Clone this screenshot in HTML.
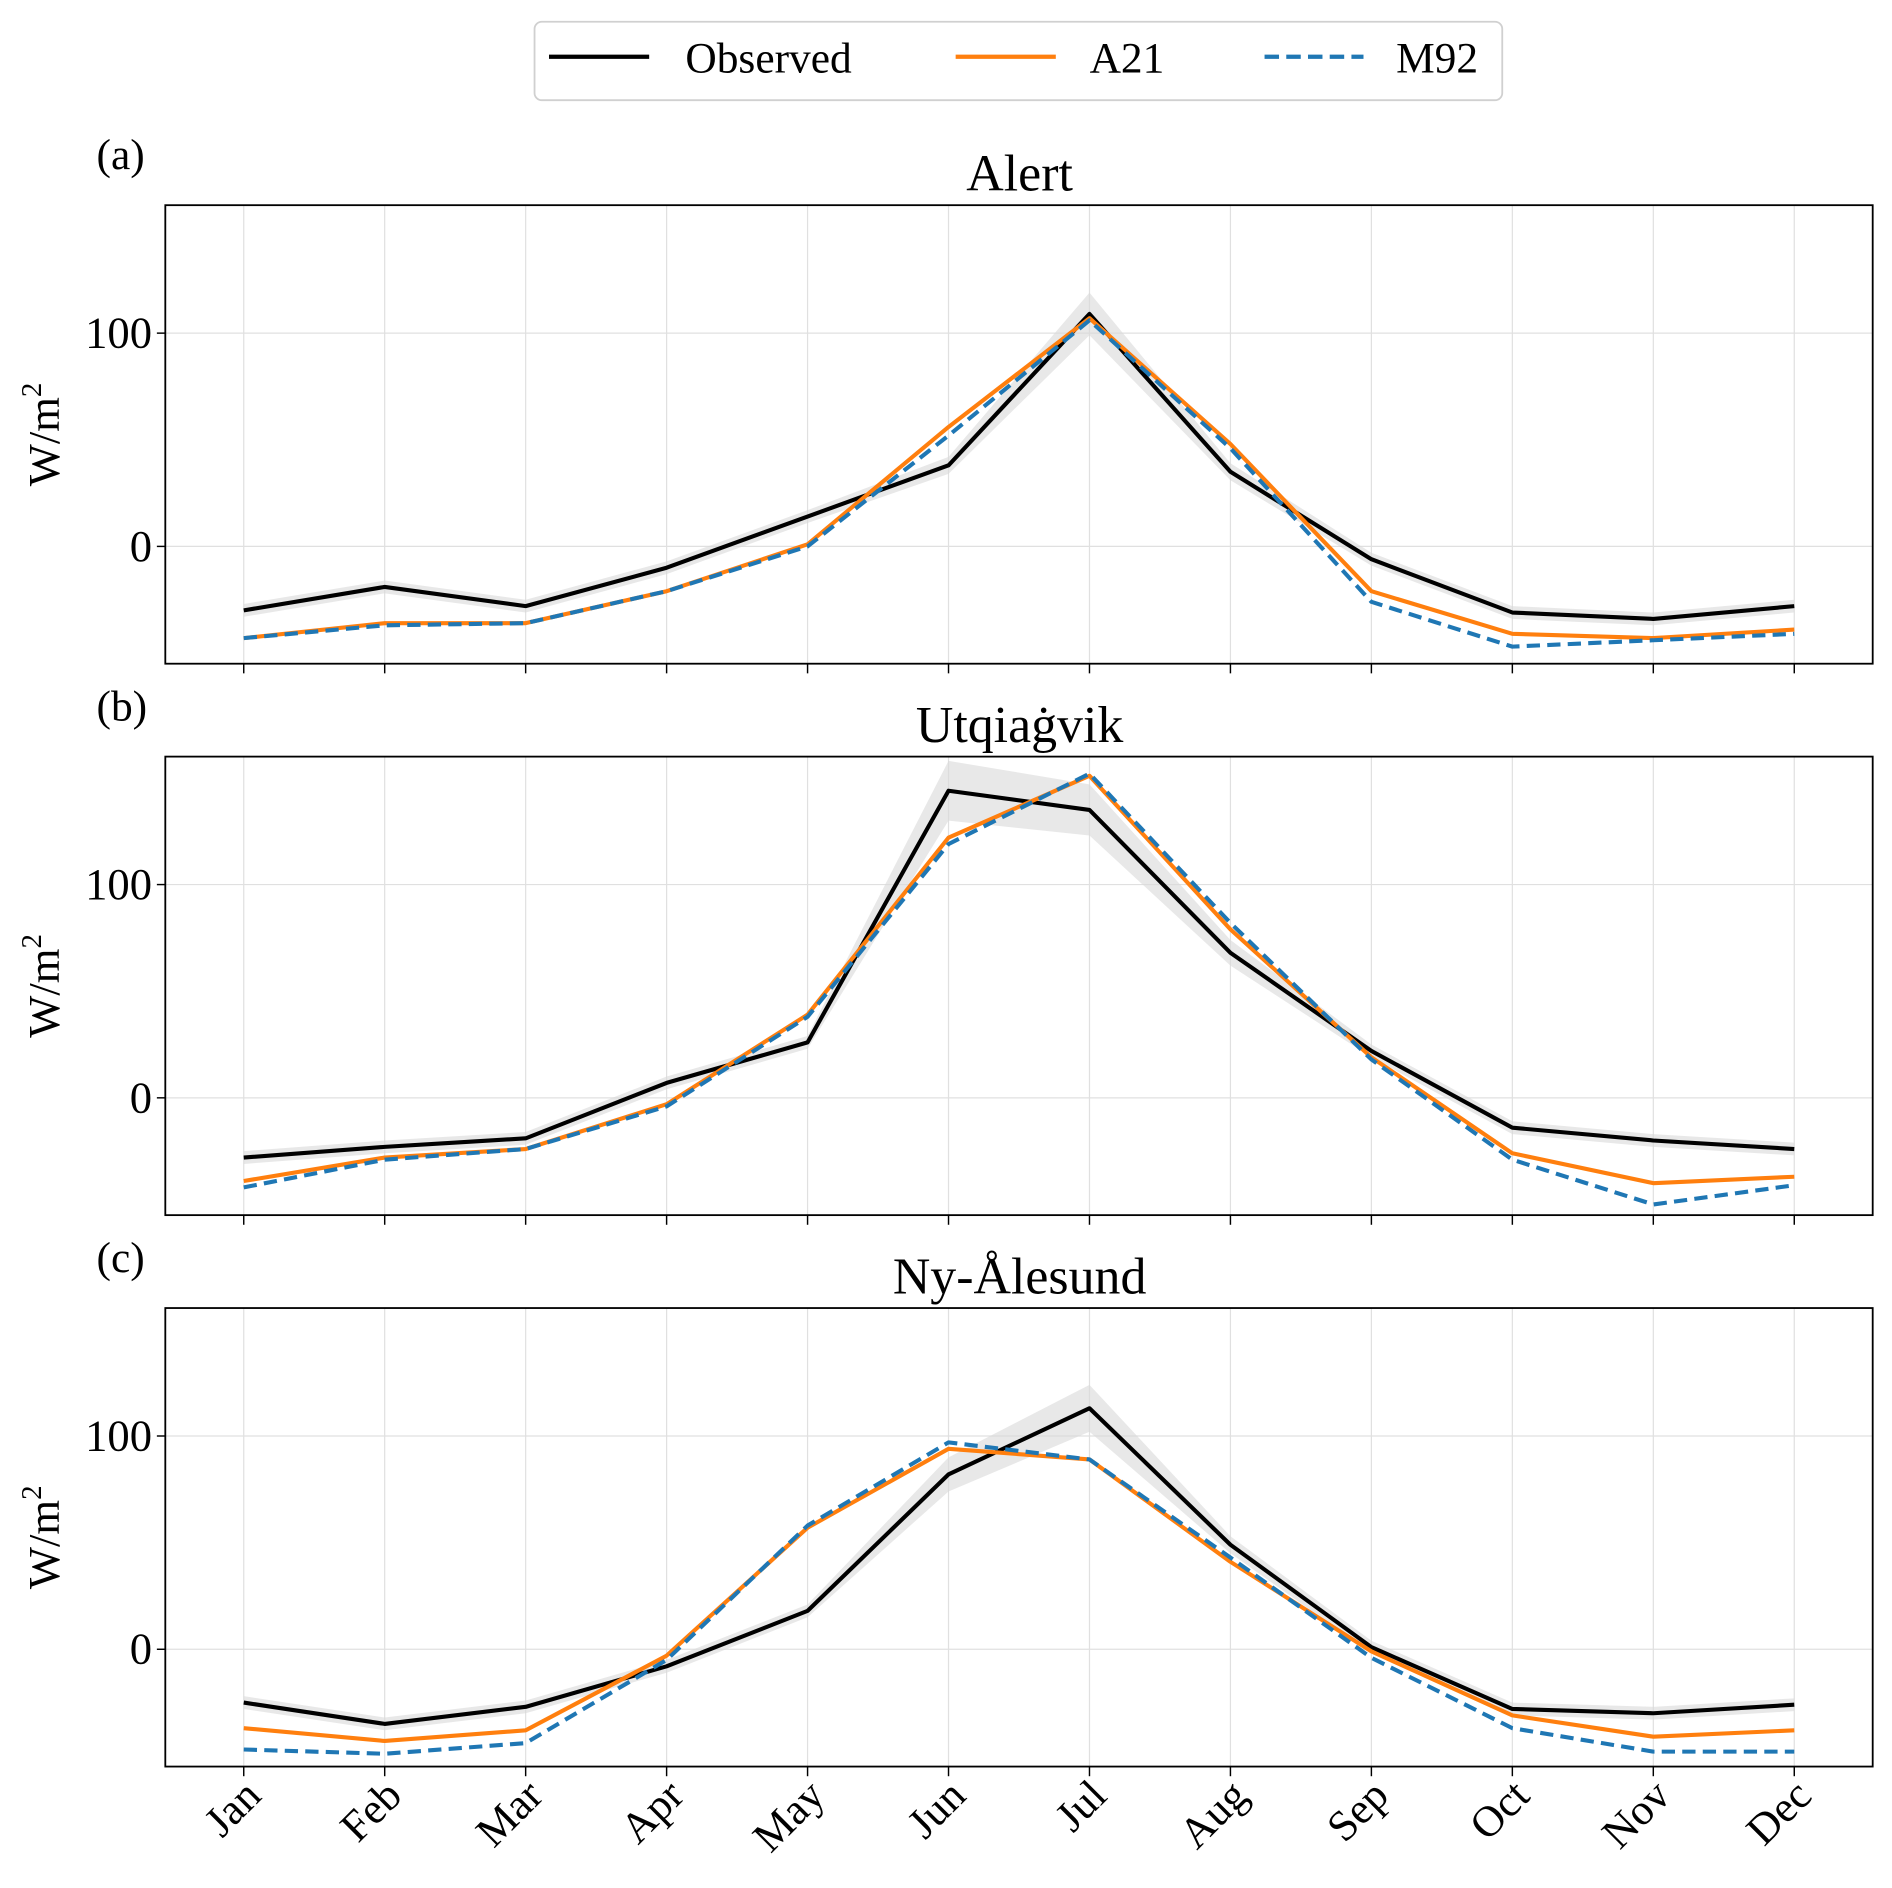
<!DOCTYPE html>
<html><head><meta charset="utf-8"><style>
html,body{margin:0;padding:0;background:#fff}
svg{display:block}
text{font-family:"Liberation Serif","DejaVu Serif",serif;fill:#000}
</style></head><body>
<svg id="chart" width="1892" height="1888" viewBox="0 0 1568 1564.6" xmlns="http://www.w3.org/2000/svg">
<g>
<rect x="443" y="18" width="802" height="65" rx="6" fill="#fff" stroke="#d0d0d0" stroke-width="1.5"/>
<line x1="455" y1="47" x2="538" y2="47" stroke="#000" stroke-width="3.5"/>
<text x="568" y="60" font-size="36">Observed</text>
<line x1="792" y1="47" x2="875" y2="47" stroke="#ff7f0e" stroke-width="3.5"/>
<text x="903" y="60" font-size="36">A21</text>
<line x1="1048" y1="47" x2="1130" y2="47" stroke="#1f77b4" stroke-width="3.5" stroke-dasharray="12,6"/>
<text x="1157" y="60" font-size="36">M92</text>
</g>
<g id="panels"></g>
</svg>
<script>
const months=["Jan","Feb","Mar","Apr","May","Jun","Jul","Aug","Sep","Oct","Nov","Dec"];
const yTicks=[0,100];
const titles=["Alert","Utqiaġvik","Ny-Ålesund"];
const letters=["(a)","(b)","(c)"];
const obsA=[-30,-19,-28,-10,14,38,109,35,-6,-31,-34,-28];
const a21A=[-43,-36,-36,-21,1,56,107,48,-21,-41,-43,-39];
const m92A=[-43,-37,-36,-21,0,52,106,46,-26,-47,-44,-41];
const bandA=[3,3,3,3,3,4,10,4,3,3,3,3];
const obsB=[-28,-23,-19,7,26,144,135,68,22,-14,-20,-24];
const a21B=[-39,-28,-24,-3,39,122,151,79,19,-26,-40,-37];
const m92B=[-42,-29,-24,-4,38,119,152,82,18,-29,-50,-41];
const bandB=[3,3,3,3,3,14,12,6,3,3,3,3];
const obsC=[-25,-35,-27,-8,18,82,113,49,1,-28,-30,-26];
const a21C=[-37,-43,-38,-3,57,94,89,41,-1,-31,-41,-38];
const m92C=[-47,-49,-44,-5,58,97,89,43,-4,-37,-48,-48];
const bandC=[3,3,3,3,3,8,11,4,3,3,3,3];
const panels=[[obsA,a21A,m92A,bandA],[obsB,a21B,m92B,bandB],[obsC,a21C,m92C,bandC]];
const NS="http://www.w3.org/2000/svg";
const root=document.getElementById('panels');
const X0=137,X1=1552,YMIN=-55,YMAX=160;
const tops=[170,627,1084],H=380;
function xS(i){return 202+i*(1487-202)/11;}
function mk(tag,attrs,parent){const e=document.createElementNS(NS,tag);for(const k in attrs)e.setAttribute(k,attrs[k]);parent.appendChild(e);return e;}
panels.forEach((p,pi)=>{
  const top=tops[pi];
  const yS=v=>top+H-(v-YMIN)/(YMAX-YMIN)*H;
  const g=mk('g',{},root);
  
  
  months.forEach((m,i)=>{
    const l=mk('line',{x1:xS(i),x2:xS(i),y1:top,y2:top+H,stroke:'#e0e0e0','stroke-width':1},g);
    
    
    const t=mk('line',{x1:xS(i),x2:xS(i),y1:top+H,y2:top+H+8,stroke:'#000','stroke-width':1.2},g);
    
    
  });
  yTicks.forEach(v=>{
    const l=mk('line',{x1:X0,x2:X1,y1:yS(v),y2:yS(v),stroke:'#e0e0e0','stroke-width':1},g);
    
    
    mk('line',{x1:X0-7,x2:X0,y1:yS(v),y2:yS(v),stroke:'#000','stroke-width':1.2},g);
    const t=mk('text',{x:X0-11,y:yS(v)+12,'font-size':37,'text-anchor':'end'},g);
    t.textContent=v;
    
    
  });
  const [obs,a21,m92,band]=p;
  let d='';
  obs.forEach((v,i)=>{d+=(i?'L':'M')+xS(i)+','+yS(v+band[i]);});
  for(let i=obs.length-1;i>=0;i--)d+='L'+xS(i)+','+yS(obs[i]-band[i]);
  const b=mk('path',{d:d+'Z',fill:'#d9d9d9','fill-opacity':0.6,stroke:'none'},g);
  
  
  const line=(arr,col,dash,name)=>{
    const pts=arr.map((v,i)=>xS(i)+','+yS(v)).join(' ');
    const e=mk('polyline',{points:pts,fill:'none',stroke:col,'stroke-width':3.4,'stroke-linejoin':'round'},g);
    if(dash)e.setAttribute('stroke-dasharray',dash);
    
    
  };
  line(obs,'#000',null,'observed-line');
  line(a21,'#ff7f0e',null,'a21-line');
  line(m92,'#1f77b4','11,6','m92-line');
  const fr=mk('rect',{x:X0,y:top,width:X1-X0,height:H,fill:'none',stroke:'#000','stroke-width':1.5},g);
  
  
  const ti=mk('text',{x:845,y:top-12,'font-size':43,'text-anchor':'middle'},g);
  ti.textContent=titles[pi];
  
  
  const le=mk('text',{x:80,y:top-30,'font-size':36},g);
  le.textContent=letters[pi];
  
  
  const yl=mk('text',{x:0,y:0,'font-size':37,'text-anchor':'middle',transform:'translate(49,'+(top+H/2)+') rotate(-90)'},g);
  yl.innerHTML='W/m<tspan font-size="24" dy="-15">2</tspan>';
  
  
  if(pi===2){
    months.forEach((m,i)=>{
      const t=mk('text',{x:0,y:0,'font-size':36,'text-anchor':'end',transform:'translate('+(xS(i)+16)+','+(top+H+26)+') rotate(-45)'},g);
      t.textContent=m;
      
      
    });
  }
});
</script>
</body></html>
